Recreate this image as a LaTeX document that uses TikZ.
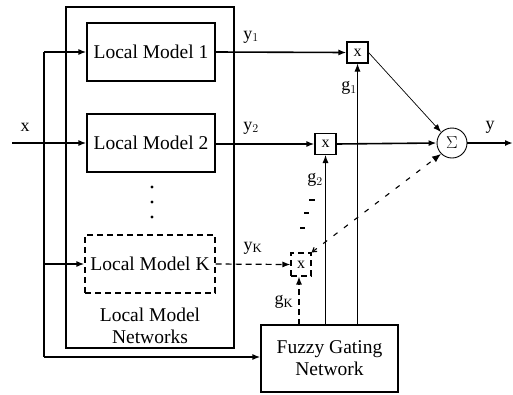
\documentclass[tikz,border=0pt]{standalone}
\usepackage{fontspec}
\setmainfont{Liberation Serif}
\usetikzlibrary{arrows.meta}
\begin{document}
\begin{tikzpicture}[x=1pt,y=-1pt,
  every node/.style={font=\fontsize{19.5}{22}\selectfont},
  box/.style={draw,line width=1.1pt,minimum width=128pt,minimum height=58pt,inner sep=0pt},
  mult/.style={draw,line width=1.1pt,minimum width=21pt,minimum height=21pt,inner sep=0pt,font=\fontsize{16}{18}\selectfont},
  main/.style={line width=1.6pt,-{Latex[length=8pt,width=6pt]}},
  thin/.style={line width=0.9pt,-{Latex[length=8pt,width=6pt]}},
  dsh/.style={dash pattern=on 6pt off 4pt},
  lbl/.style={font=\fontsize{18}{20}\selectfont,inner sep=0pt}]
\useasboundingbox (0,0) rectangle (513,394);
% outer box
\node[draw,line width=1.1pt,minimum width=168pt,minimum height=341pt,inner sep=0pt] (outer) at (150,177.5) {};
\node[box] (lm1) at (151,52) {Local Model 1};
\node[box] (lm2) at (151,143) {Local Model 2};
\node[box,dsh,minimum width=130pt] (lmk) at (150,264) {Local Model K};
\fill (152,187) circle (1.6pt) (152,202) circle (1.6pt) (152,217) circle (1.6pt);
\node[align=center,inner sep=0pt] (lmn) at (150,326) {Local Model\\Networks};
% multipliers
\node[mult] (m1) at (357.5,52.5) {x};
\node[mult] (m2) at (325.5,144) {x};
\node[mult,dsh,minimum width=20pt,minimum height=23pt] (mk) at (301,264.5) {x};
\node[draw,circle,line width=0.9pt,minimum size=30pt,inner sep=0pt,font=\fontsize{16}{18}\selectfont] (sig) at (452,143) {$\Sigma$};
\node[draw,line width=1.1pt,minimum width=137pt,minimum height=67pt,inner sep=0pt,align=center] (fz) at (329.5,358.5) {Fuzzy Gating\\Network};
% input bus
\coordinate (xin) at (12,143);
\coordinate (bt) at (44,52);
\coordinate (bb) at (44,357);
\coordinate (bk) at (44,264);
\node[lbl] (xl) at (25,127) {x};
\draw[main] (xin) -- (lm2.west);
\draw[line width=1.6pt] (bt) -- (bb);
\draw[main] (bt) -- (lm1.west);
\draw[main] (bk) -- (lmk.west);
\draw[main] (bb) -- (bb -| fz.west);
% outputs
\draw[main] (lm1.east) -- (m1.west);
\draw[main] (lm2.east |- m2.west) -- (m2.west);
\draw[main,dsh,line width=1.2pt] (lmk.east) -- (mk.west);
\node[lbl] (y1) at (251,37) {y$_1$};
\node[lbl] (y2) at (251,128) {y$_2$};
\node[lbl] (yk) at (253,248) {y$_\mathrm{K}$};
% to sigma
\draw[main] (m2.east) -- (sig.west);
\draw[line width=0.7pt,-{Latex[length=8pt,width=6pt]}] (m1.east) -- (sig.north west);
\draw[line width=1.1pt,dash pattern=on 5pt off 8pt,{Straight Barb[length=4pt,width=5pt]}-{Latex[length=9pt,width=7pt]}] (mk.north east) -- (sig.south west);
\coordinate (yo) at (513,143);
\draw[main] (sig.east) -- (yo);
\node[lbl] (yl) at (490,127) {y};
% gates
\draw[thin] (fz.north -| m1.south) -- (m1.south);
\draw[thin] (fz.north -| m2.south) -- (m2.south);
\coordinate (gkb) at (299,325);
\draw[thin,dsh,line width=1.2pt] (gkb) -- (gkb |- mk.south);
\node[lbl] (g1) at (349,88) {g$_1$};
\node[lbl] (g2) at (315,180) {g$_2$};
\node[lbl] (gk) at (284,302) {g$_\mathrm{K}$};
\coordinate (e1) at (309,200);\coordinate (e2) at (315,200);
\coordinate (e3) at (304,213);\coordinate (e4) at (309,213);
\coordinate (e5) at (300,228);\coordinate (e6) at (305,228);
\draw[line width=1.3pt] (e1) -- (e2) (e3) -- (e4) (e5) -- (e6);
\end{tikzpicture}
\end{document}
